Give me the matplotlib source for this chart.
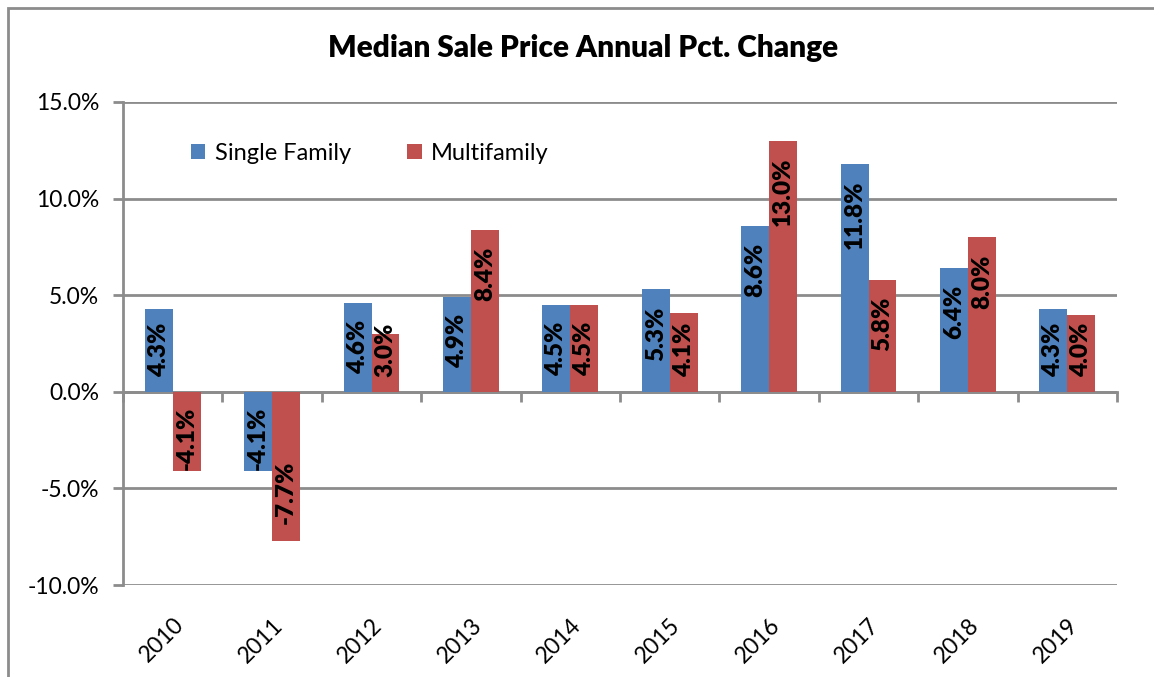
import numpy as np
import matplotlib.pyplot as plt
from matplotlib.patches import Rectangle
from matplotlib.ticker import FuncFormatter

plt.rcParams['font.family'] = ['Lato', 'DejaVu Sans']

years = ['2010', '2011', '2012', '2013', '2014', '2015', '2016', '2017', '2018', '2019']
single_family = [4.3, -4.1, 4.6, 4.9, 4.5, 5.3, 8.6, 11.8, 6.4, 4.3]
multifamily = [-4.1, -7.7, 3.0, 8.4, 4.5, 4.1, 13.0, 5.8, 8.0, 4.0]
series_names = ['Single Family', 'Multifamily']

blue = '#4F81BD'
red = '#C0504D'
grey = '#8C8C8C'

fig = plt.figure(figsize=(11.54, 6.77), dpi=100)
# chart frame
fig.patches.append(Rectangle((8 / 1154, -0.05), 1.2, 1 - 8 / 677 + 0.05,
                             transform=fig.transFigure, fill=False,
                             edgecolor=grey, linewidth=2))

ax = fig.add_axes([123 / 1154, (677 - 585) / 677, 994 / 1154, 483 / 677])

x = np.arange(len(years))
w = 0.28
b1 = ax.bar(x - w / 2, single_family, w, color=blue, label=series_names[0], zorder=3)
b2 = ax.bar(x + w / 2, multifamily, w, color=red, label=series_names[1], zorder=3)

ax.set_xlim(-0.5, len(years) - 0.5)
ax.set_ylim(-10, 15)
ax.set_yticks(np.arange(-10, 16, 5))
ax.yaxis.set_major_formatter(FuncFormatter(lambda v, p: f'{v:.1f}%'))
ax.grid(axis='y', color=grey, linewidth=2, zorder=0)
ax.tick_params(axis='y', length=7, width=2, color=grey, labelsize=16.5, pad=10)

ax.set_xticks(x)
ax.set_xticklabels(years, rotation=45, ha='right', rotation_mode='anchor')
ax.tick_params(axis='x', length=0, labelsize=16.5, pad=21)

for s in ('top', 'right', 'bottom'):
    ax.spines[s].set_visible(False)
ax.spines['left'].set_color(grey)
ax.spines['left'].set_linewidth(2)

# category axis at zero with boundary ticks
sec = ax.secondary_xaxis(0, transform=ax.transData)
sec.set_xticks(np.arange(len(years) + 1) - 0.5)
sec.set_xticklabels([])
sec.tick_params(length=7, width=2, color=grey, direction='out')
sec.spines['bottom'].set_color(grey)
sec.spines['bottom'].set_linewidth(2)

ax.legend(loc='center left', bbox_to_anchor=(0.047, 0.894), ncol=2, frameon=False,
          fontsize=17, handlelength=0.6, handleheight=0.6, handletextpad=0.4,
          columnspacing=2.4)

fig.text(583 / 1154, 1 - 48 / 677, 'Median Sale Price Annual Pct. Change',
         ha='center', va='center', fontsize=21.5, fontweight='heavy')

# value labels: inside the bar end, or against the base when too long
end_pad, base_pad = 17, 15
fig.canvas.draw()
renderer = fig.canvas.get_renderer()
for bars, vals in ((b1, single_family), (b2, multifamily)):
    for rect, v in zip(bars, vals):
        cx = rect.get_x() + rect.get_width() / 2
        sign = 1 if v >= 0 else -1
        t = ax.annotate(f'{v:.1f}%', (cx, v), xytext=(0, -sign * end_pad),
                        textcoords='offset pixels', rotation=90, ha='center',
                        va='top' if sign > 0 else 'bottom', fontsize=17.5,
                        fontweight='heavy', color='black', zorder=4)
        length = t.get_window_extent(renderer).height
        bar_px = abs(ax.transData.transform((0, v))[1] - ax.transData.transform((0, 0))[1])
        if length + end_pad + base_pad > bar_px:
            t.xy = (cx, 0)
            t.set_position((0, sign * base_pad))
            t.set_va('bottom' if sign > 0 else 'top')

fig.savefig('out.png', dpi=100)
